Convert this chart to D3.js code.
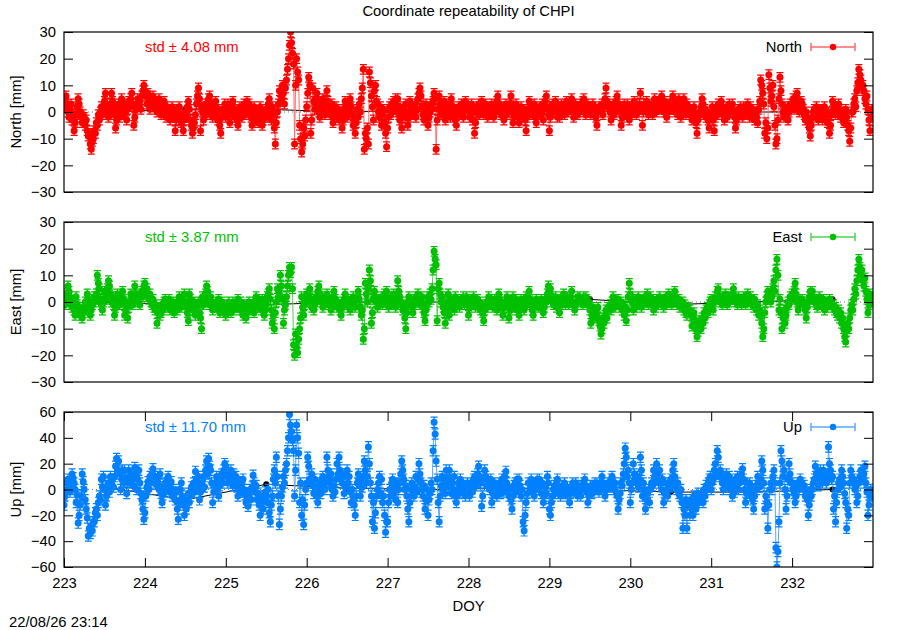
<!DOCTYPE html>
<html>
<head>
<meta charset="utf-8">
<script src="https://cdn.jsdelivr.net/npm/d3@7/dist/d3.min.js"></script>
<style>
  body { margin: 0; background: #fff; }
  svg text { font-family: "Liberation Sans", Arial, sans-serif; }
</style>
</head>
<body>
<div id="viz"></div>
<script>
// one row per day (DOY 223 .. 232), values in mm
const dayLabels = [223, 224, 225, 226, 227, 228, 229, 230, 231, 232];

const north = [
  [2,5,6,3,0,-2,1,3,-3,-1, -7,-4,-1,2,5,3,0,-2,-4,-1, -2,-5,-3,-7,-9,-8,-12,-14,-11,-10, -7,-8,-4,-5,-1,-3,0,2,-1,1,
   4,7,3,1,-2,0,3,7,4,2, -1,-6,-3,0,3,-2,1,5,2,-1, 3,0,-3,1,4,2,5,7,3,-5, -2,1,3,5,2,4,1,6,8,10],
  [8,6,3,7,4,1,5,2,6,3, 1,4,0,3,5,2,-1,3,1,4, 0,-2,2,-1,1,-3,0,2,-2,1, -7,-3,0,-2,2,-1,-4,-2,-7,-3,
   0,-2,2,4,1,-3,-5,-8,-6,-4, -1,3,6,9,5,-7,2,0,-3,1, 3,-1,2,5,6,1,3,-2,0,2, 4,0,-3,1,-5,-8,-2,1,-1,3],
  [-2,1,3,-1,-4,0,2,4,1,-2, 0,-3,-5,-1,2,0,-2,1,3,-1, 2,4,1,3,0,-2,-5,-1,2,0, -3,-1,-4,0,2,-2,-5,-3,-1,0,
   1,-2,3,5,0,-3,2,-1,-6,-12, -4,0,3,8,4,6,10,7,3,9, 12,16,20,25,30,26,22,18,-12,10, 20,15,12,-5,-10,-15,-12,-6,-9,-3],
  [2,7,13,10,-8,-3,9,4,1,5, 7,3,0,-2,4,2,5,1,-1,3, 8,4,2,-1,1,3,-4,-2,0,2, -1,1,-3,-2,0,-6,-3,1,4,2,
   -2,0,3,5,2,-1,-5,-3,-8,-4, 1,-2,3,0,5,9,16,-14,-8,-10, -6,-12,15,11,6,2,-3,8,10,4, 3,0,-2,2,-5,-1,1,-4,-8,-13],
  [-6,-2,2,-1,3,0,4,1,5,2, 5,-1,-3,1,-6,-2,2,0,3,-1, -5,-2,4,1,-1,2,0,3,-2,1, 5,7,9,6,2,-1,-3,1,3,0,
   -5,-2,0,3,1,4,7,5,-14,-3, 1,6,3,-1,2,0,4,-3,-1,2, 0,3,-2,5,2,-1,1,-3,-5,-1, 2,-1,1,3,0,-2,2,4,1,3],
  [1,-2,0,3,-3,1,-8,-4,0,2, 3,-1,1,4,2,-1,0,3,1,-2, 0,2,-1,3,1,-2,2,0,4,6, 3,1,-1,2,0,-3,1,3,-1,2,
   0,3,6,2,-4,-1,1,3,0,-2, -4,-1,2,0,-2,1,-3,-7,-2,0, 4,1,2,-1,0,3,-2,-4,-1,1, 2,-1,0,3,-3,1,4,6,2,-1],
  [-7,-2,1,3,0,2,4,1,-2,0, -2,1,3,0,2,-1,1,4,2,0, 1,3,5,2,-2,0,3,1,-1,2, 0,3,1,4,5,2,-1,1,3,0,
   2,-1,1,3,0,2,-2,-5,0,2, 1,0,3,-1,2,5,9,4,2,3, 0,-3,1,3,-1,2,4,6,3,0, 2,-5,-2,1,3,-1,2,3,0,-3],
  [2,-1,3,0,4,1,-1,2,0,3, 7,2,-5,0,3,1,4,2,-1,3, 1,3,-1,2,5,3,0,2,4,1, 3,6,2,0,4,1,-2,3,0,2,
   1,4,6,2,0,3,1,-1,5,2, -2,1,3,5,2,-1,3,0,2,-1, 1,-3,0,2,-2,-4,-8,-3,0,-1, 2,5,3,-1,1,-2,0,-3,-6,-2],
  [-1,2,-3,-7,-2,1,-1,3,0,2, 4,1,-1,-3,0,2,-2,1,3,0, 2,3,0,-2,-6,-3,0,1,-1,2, 0,-2,2,1,-1,0,3,1,-2,2,
   -2,1,-1,-3,0,-2,-4,1,4,12, 10,7,3,-8,-4,-10,-6,14,9,4, 6,10,2,-5,-12,-10,-3,5,13,8, 3,0,-2,2,-1,1,-3,0,3,1],
  [3,5,1,4,6,7,3,0,2,4, 3,1,-1,-3,0,-2,-4,-6,-9,-5, -2,0,1,-1,2,0,-3,-1,1,-2, -3,0,2,-1,-2,-4,0,-8,-5,-1,
   4,1,2,-1,0,2,3,1,-2,0, -2,-4,-1,1,-2,-5,-7,-11,-6,0, 0,3,5,2,8,11,16,14,12,9, 10,8,5,3,6,1,-3,-7,-2,1]
];

const east = [
  [2,-1,1,3,6,4,2,-1,-2,0, -3,-5,2,-1,-4,-2,-5,-3,-6,-4, -2,0,-3,3,1,-2,-5,-3,-1,0, 2,0,3,10,7,5,1,-1,-3,0,
   4,1,3,5,8,6,3,0,2,-1, -5,-2,0,3,1,-1,2,0,4,1, -5,-3,-1,-6,-2,0,3,1,-1,2, 6,3,1,0,2,-1,3,4,2,6],
  [7,4,5,2,1,3,0,-1,1,-2, -3,-1,-8,-4,-2,-5,-4,-1,-3,0, 1,-1,0,-2,1,-3,-1,-2,0,-4, -2,0,-3,-1,2,0,-2,1,-1,3,
   0,-2,-4,-7,3,1,-1,-3,-2,0, -5,-2,-3,0,-4,-6,-10,2,-1,0, 3,6,4,1,-1,2,0,-3,-1,-2, 0,-2,-1,1,-4,-3,0,-2,-4,-1],
  [-5,-2,-3,0,-1,-4,-2,0,-3,-1, 0,-2,1,-1,-3,0,-2,-5,-3,-1, -6,-4,-2,0,-1,-3,-2,0,-4,-1, 2,0,-2,1,-1,-3,1,-2,-5,-3,
   -1,2,3,5,1,-3,-8,-5,-10,-4, 0,5,2,3,10,6,1,-8,-3,-1, 2,6,10,13,11,13,5,-16,-20,-12, -17,-19,-14,-10,-6,2,-2,-5,-1,1],
  [3,0,2,5,1,-2,0,-3,-1,2, 1,4,6,3,0,2,-2,-1,1,0, 3,1,-1,0,-3,-1,2,4,1,0, -2,0,-1,-3,-5,-2,0,1,3,0,
   -1,1,-2,-3,0,-1,2,0,-2,1, 2,4,1,-2,-5,-3,-14,-10,7,3, 0,5,12,8,-8,-4,1,4,2,0, -2,0,1,-1,2,-1,1,3,2,4],
  [1,-2,0,2,-1,1,3,0,-2,1, 8,4,2,0,-1,-3,-2,-6,-10,-4, 0,2,1,-1,-2,-4,-1,0,2,1, 3,1,-1,0,2,-2,-4,-7,-3,-1,
   2,0,3,1,5,12,19,16,14,-7, 5,7,3,0,2,-2,-4,-8,-3,0, 3,-5,-1,1,-2,0,-3,2,-1,1, 0,-2,1,-1,0,2,-1,1,2,0],
  [-5,-2,0,1,-1,2,0,-2,-1,1, -2,0,-3,-1,-4,-7,-3,-1,0,-2, 2,0,-1,1,-2,0,1,-1,-3,0, 3,1,-1,-2,-5,-2,0,-1,2,0,
   -6,-3,-1,0,2,-2,-1,1,-3,-1, -5,-2,1,0,-1,-3,0,2,-1,1, 4,1,-1,-3,-5,-2,0,1,-1,-2, 0,-2,1,-1,-4,-2,1,0,3,6],
  [4,5,2,0,-1,1,2,-2,0,1, -4,-1,0,2,3,1,-1,0,2,-1, 1,2,4,0,-1,-3,-1,0,2,1, 2,0,1,-1,2,0,2,1,-1,0,
   -3,-8,-5,-2,-4,-6,-3,-5,-2,-7, -9,-12,-10,-6,-8,-5,-3,-6,-2,-3, -1,-3,0,2,0,-2,1,-1,1,0, -2,0,-3,-1,-5,-2,-7,-3,2,7],
  [3,2,0,-3,-1,1,-2,0,2,-1, 0,-2,1,-1,2,0,1,3,-1,0, 2,-1,1,-3,0,-2,1,-1,0,2, 0,-1,1,-2,0,2,-1,1,3,0,
   1,-1,2,0,4,2,0,-1,1,-2, -1,-2,0,-3,-1,-4,-5,-2,-4,-3, -5,-9,-6,-4,-8,-10,-13,-11,-7,-9, -10,-6,-8,-4,-6,-3,-2,-4,-1,0],
  [1,-1,-3,0,2,1,4,5,2,0, 1,-1,2,0,3,1,-1,2,0,1, 2,3,5,2,0,1,-1,2,0,1, -1,0,2,1,-1,0,3,1,0,2,
   0,-1,-2,1,-2,-3,-1,-5,-3,-5, -8,-13,-10,-4,0,2,4,1,3,0, 2,5,8,4,12,16,10,-3,1,-4, -10,-6,-3,-8,-5,-2,0,-1,2,1],
  [3,1,4,7,3,0,-3,-1,1,0, 1,-1,0,-3,-6,-2,0,2,4,1, 4,2,0,1,-1,-2,0,2,-1,0, -1,1,-3,-1,0,-2,-1,1,0,-1,
   -2,-1,-3,-2,-4,-5,-3,-6,-4,-8, -6,-10,-13,-15,-11,-8,-10,-6,-3,-1, -3,1,5,3,8,12,16,13,10,12, 8,6,9,4,1,-4,-1,3,0,2]
];

const up = [
  [-12,-5,5,0,8,3,-2,6,12,9, 5,0,-10,-4,-26,-20,-12,-5,12,6, 0,-8,-15,-22,-36,-30,-34,-28,-32,-25, -25,-18,-15,-20,-10,-5,-8,8,2,10,
   0,-12,-5,3,5,-2,10,4,8,2, 10,18,24,15,22,12,0,8,15,5, 15,8,-3,6,15,10,5,12,8,3, 17,10,0,8,15,5,-3,-8,-15,-23],
  [-18,-5,2,6,0,10,5,12,16,10, 10,4,8,5,0,12,-3,-10,-4,2, 5,0,8,10,3,-2,6,-5,0,-3, -8,-2,-15,-23,-10,0,5,-5,-12,-20,
   -8,-15,-10,-3,-10,-5,2,0,5,-2, 14,8,3,10,-8,-2,5,3,10,2, 15,22,12,24,18,15,5,-10,-2,5, 5,10,0,-5,3,8,12,5,15,20],
  [18,10,5,12,8,15,10,3,12,6, 10,2,-5,0,6,-2,5,8,0,-4, -10,-3,-13,-5,0,-8,2,11,5,-2, 3,-8,-3,-12,-20,-10,-5,-15,-8,-2,
   -5,-10,0,-18,-25,-12,-5,8,15,5, 25,10,-5,-27,-15,-5,2,10,5,15, 20,30,40,58,50,45,38,30,-5,15, 50,40,28,-10,5,-20,-8,-27,-12,0],
  [5,25,18,8,5,12,3,-3,8,2, -5,-10,0,5,-3,8,10,4,0,6, 25,15,10,5,12,0,-5,3,-2,8, 20,12,25,15,8,5,10,-3,2,12,
   15,5,10,-2,-10,0,-5,-12,-20,-5, 5,12,3,-5,8,2,10,22,15,5, 10,33,20,5,-5,-25,-10,-30,-18,-5, 0,5,10,-3,8,-10,-5,-20,-33,-25],
  [-25,-10,0,-5,5,8,-3,2,-8,5, -10,0,5,12,22,15,8,0,3,-5, -15,-25,-10,0,5,-3,-5,2,10,-2, 8,20,12,5,0,-5,3,-15,-8,0,
   -20,-8,-3,5,0,30,52,43,22,8, -10,-25,-5,3,10,0,5,-3,15,8, 2,15,8,-3,5,0,10,-5,-10,0, 5,-3,8,2,5,-2,3,-5,0,5],
  [0,-5,3,5,-2,8,10,3,6,12, 18,10,5,-13,-5,8,15,10,3,8, 5,0,8,-10,-3,2,5,0,-5,3, 0,5,-3,8,2,-2,10,14,5,0,
   -5,0,-8,-15,-5,3,5,-2,8,2, 8,3,-5,0,-25,-32,-20,-10,-3,5, 5,0,8,-2,3,-5,0,5,8,2, 8,3,-3,5,-10,-5,2,-3,10,5],
  [-15,-20,-10,-5,0,3,-3,5,8,2, 0,-5,-2,3,0,5,-3,2,-5,0, -10,-3,0,5,-2,3,5,0,-5,2, 0,-5,3,0,5,8,3,-2,-10,-5,
   0,3,-3,2,-2,5,0,5,3,-2, 5,2,10,5,0,-5,3,0,5,2, 5,8,10,3,0,5,-2,-5,-15,-8, -3,5,3,12,20,32,25,10,15,5],
  [-10,0,5,20,12,8,5,10,2,8, 25,15,-5,5,0,-15,-8,-3,0,-10, 0,5,3,15,10,8,20,12,5,15, 5,0,8,-10,-3,5,0,-5,5,2,
   8,3,15,20,10,5,0,5,-3,-5, 0,-10,-30,-15,-20,-8,-30,-12,-10,-20, -8,-15,-20,-5,-12,-15,-8,-3,-10,-5, -8,-3,-10,0,-5,3,0,5,8,10],
  [0,5,8,15,20,12,30,25,10,15, 10,5,0,8,3,12,8,5,10,0, 5,-5,3,-2,8,5,10,0,5,8, 12,16,8,0,-10,-3,5,0,5,-5,
   0,-8,-15,-5,3,0,10,5,2,8, 22,15,5,-15,-5,-10,-30,-12,0,5, 0,10,15,5,-45,-60,-48,-25,5,30, 22,10,15,0,-15,-5,8,20,12,5],
  [5,0,-3,-10,-5,3,5,0,8,5, 5,0,3,-5,-2,-8,-20,-12,0,-5, 0,5,8,18,12,10,3,8,15,10, 5,15,8,12,5,10,33,20,15,8,
   10,-15,-5,-25,-10,0,5,8,2,15, 10,5,-3,-10,-30,-15,-20,5,15,10, 5,8,0,3,-10,-5,5,10,15,8, 10,12,18,5,-2,-20,-12,-5,0,-5]
];

// daily reference solution (black)
const refDays = [223.5, 224.5, 225.5, 226.5, 227.5, 228.5, 229.5, 230.5, 231.5, 232.5];
const refNorth = [0, 1, 1, 0, 1, 0, 1, 0, 0, 0];
const refEast = [0, -1, -1, 0, 0, 0, 1, -1, 0, 1];
const refUp = [2, -8, 4, 1, 0, 1, 0, -2, -2, 0];

const stdValues = [4.08, 3.87, 11.70];
const sigmas = [1.8, 1.8, 4];
const neTicks = [-30, -20, -10, 0, 10, 20, 30];
const upTicks = [-60, -40, -20, 0, 20, 40, 60];

const width = 900, height = 630;
const fontSize = 14.8;

const svg = d3.select("#viz").append("svg")
    .attr("width", width)
    .attr("height", height);

const x = d3.scaleLinear().domain([223, 233]).range([64, 873]);
const [x0, x1] = x.range();

const toPoints = rows => rows.flatMap((row, d) =>
    row.map((v, j) => ({t: dayLabels[d] + j / row.length, v})));

const panels = [
  {name: "North", rows: north, ref: refNorth, std: stdValues[0], sigma: sigmas[0], ticks: neTicks,
   color: "#ff0000", light: "#ff6a6a", top: 32, bottom: 192},
  {name: "East", rows: east, ref: refEast, std: stdValues[1], sigma: sigmas[1], ticks: neTicks,
   color: "#00c000", light: "#4fd44f", top: 222, bottom: 382},
  {name: "Up", rows: up, ref: refUp, std: stdValues[2], sigma: sigmas[2], ticks: upTicks,
   color: "#0080ff", light: "#5aa9ff", top: 412, bottom: 567}
];

svg.append("text")
    .attr("x", (x0 + x1) / 2).attr("y", 16)
    .attr("text-anchor", "middle").attr("font-size", fontSize)
    .text("Coordinate repeatability of CHPI");

panels.forEach((p, i) => {
    const y = d3.scaleLinear().domain(d3.extent(p.ticks)).range([p.bottom, p.top]);
    const pts = toPoints(p.rows);
    const line = d3.line().x(d => x(d.t)).y(d => y(d.v));

    svg.append("clipPath").attr("id", "clip" + i)
      .append("rect")
        .attr("x", x0).attr("y", p.top)
        .attr("width", x1 - x0).attr("height", p.bottom - p.top);

    const g = svg.append("g").attr("clip-path", `url(#clip${i})`);

    // zero axis
    g.append("line")
        .attr("x1", x0).attr("x2", x1)
        .attr("y1", y(0)).attr("y2", y(0))
        .attr("stroke", "#777").attr("stroke-dasharray", "1,3");

    // reference series
    const refPts = refDays.map((t, k) => ({t, v: p.ref[k]}));
    g.append("path").datum(refPts)
        .attr("d", line).attr("fill", "none")
        .attr("stroke", "#000").attr("stroke-width", 1);
    g.selectAll("circle.ref").data(refPts).join("circle")
        .attr("class", "ref")
        .attr("cx", d => x(d.t)).attr("cy", d => y(d.v))
        .attr("r", 3).attr("fill", "#000");

    // series
    g.append("path").datum(pts)
        .attr("d", line).attr("fill", "none")
        .attr("stroke", p.light).attr("stroke-width", 1);

    g.append("path")
        .attr("d", pts.map(d => {
            const cx = x(d.t), ya = y(d.v + p.sigma), yb = y(d.v - p.sigma);
            return `M${cx},${ya}V${yb}M${cx - 3.5},${ya}h7M${cx - 3.5},${yb}h7`;
        }).join(""))
        .attr("fill", "none").attr("stroke", p.color).attr("stroke-width", 1.2);

    g.selectAll("circle.pt").data(pts).join("circle")
        .attr("class", "pt")
        .attr("cx", d => x(d.t)).attr("cy", d => y(d.v))
        .attr("r", 3.5).attr("fill", p.color);

    // axes
    svg.append("g")
        .attr("transform", `translate(${x0},0)`)
        .call(d3.axisLeft(y).tickValues(p.ticks).tickSize(-9).tickPadding(8))
        .attr("font-size", fontSize).attr("font-family", null)
        .call(a => a.select(".domain").remove());

    svg.append("g")
        .attr("transform", `translate(${x1},0)`)
        .call(d3.axisRight(y).tickValues(p.ticks).tickSize(-9).tickFormat(""))
        .call(a => a.select(".domain").remove());

    if (i === panels.length - 1) {
        svg.append("g")
            .attr("transform", `translate(0,${p.bottom})`)
            .call(d3.axisBottom(x).tickValues(dayLabels).tickSize(-9).tickPadding(10).tickFormat(d3.format("d")))
            .attr("font-size", fontSize).attr("font-family", null)
            .call(a => a.select(".domain").remove());
        svg.append("g")
            .attr("transform", `translate(0,${p.top})`)
            .call(d3.axisTop(x).tickValues(dayLabels).tickSize(-9).tickFormat(""))
            .call(a => a.select(".domain").remove());
    }

    // frame
    svg.append("rect")
        .attr("x", x0).attr("y", p.top)
        .attr("width", x1 - x0).attr("height", p.bottom - p.top)
        .attr("fill", "none").attr("stroke", "#000").attr("stroke-width", 1.2);

    // y label
    const mid = (p.top + p.bottom) / 2;
    svg.append("text")
        .attr("transform", `translate(21,${mid}) rotate(-90)`)
        .attr("text-anchor", "middle").attr("font-size", fontSize)
        .text(`${p.name} [mm]`);

    // std note
    svg.append("text")
        .attr("x", 145).attr("y", p.top + 20)
        .attr("font-size", fontSize).attr("fill", p.color)
        .text(`std \u00b1 ${p.std.toFixed(2)} mm`);

    // legend
    const ly = p.top + 15;
    svg.append("text")
        .attr("x", 802).attr("y", ly + 5)
        .attr("text-anchor", "end").attr("font-size", fontSize)
        .text(p.name);
    svg.append("path")
        .attr("d", `M811,${ly}H855M811,${ly - 4}V${ly + 4}M855,${ly - 4}V${ly + 4}`)
        .attr("stroke", p.light).attr("stroke-width", 1.5).attr("fill", "none");
    svg.append("circle")
        .attr("cx", 833).attr("cy", ly).attr("r", 3.2).attr("fill", p.color);
});

svg.append("text")
    .attr("x", (x0 + x1) / 2).attr("y", 611)
    .attr("text-anchor", "middle").attr("font-size", fontSize)
    .text("DOY");

svg.append("text")
    .attr("x", 9).attr("y", 627)
    .attr("font-size", fontSize)
    .text("22/08/26 23:14");
</script>
</body>
</html>
